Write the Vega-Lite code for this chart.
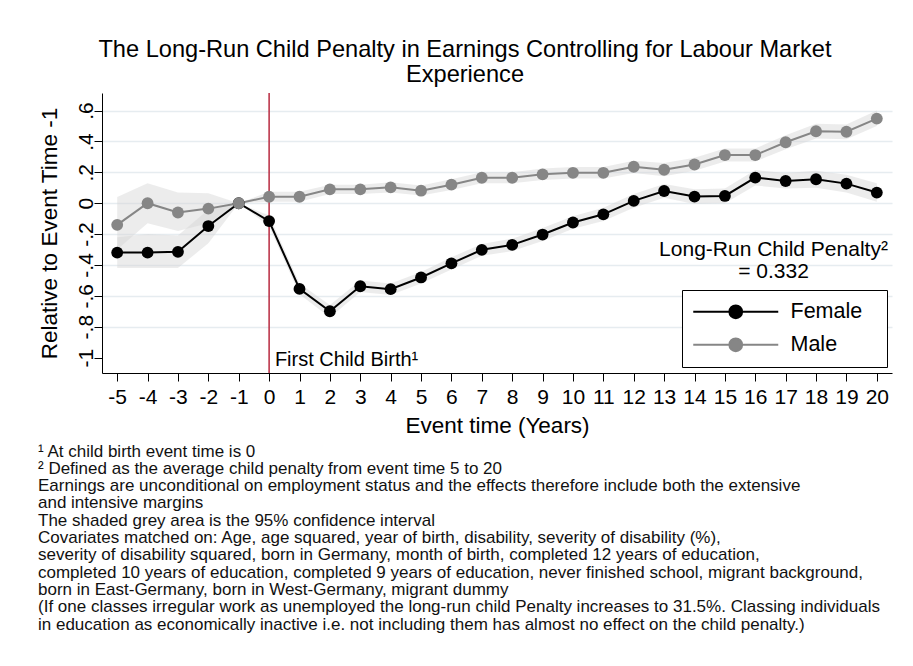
{
  "$schema": "https://vega.github.io/schema/vega-lite/v6.json",
  "background": "white",
  "padding": {"left": 37, "top": 38, "right": 10, "bottom": 10},
  "title": {
    "text": ["The Long-Run Child Penalty in Earnings Controlling for Labour Market", "Experience"],
    "fontSize": 23.6,
    "fontWeight": "normal",
    "lineHeight": 24.3,
    "anchor": "middle",
    "frame": "bounds",
    "offset": 6,
    "color": "#000000"
  },
  "datasets": {
    "series": [
      {"t": -5, "sex": "Female", "est": -0.32, "lo": -0.42, "hi": -0.22},
      {"t": -4, "sex": "Female", "est": -0.32, "lo": -0.42, "hi": -0.2},
      {"t": -3, "sex": "Female", "est": -0.315, "lo": -0.42, "hi": -0.21},
      {"t": -2, "sex": "Female", "est": -0.148, "lo": -0.26, "hi": -0.04},
      {"t": -1, "sex": "Female", "est": 0, "lo": 0, "hi": 0},
      {"t": 0, "sex": "Female", "est": -0.116, "lo": -0.15, "hi": -0.08},
      {"t": 1, "sex": "Female", "est": -0.555, "lo": -0.59, "hi": -0.52},
      {"t": 2, "sex": "Female", "est": -0.7, "lo": -0.74, "hi": -0.66},
      {"t": 3, "sex": "Female", "est": -0.538, "lo": -0.575, "hi": -0.5},
      {"t": 4, "sex": "Female", "est": -0.557, "lo": -0.595, "hi": -0.52},
      {"t": 5, "sex": "Female", "est": -0.481, "lo": -0.52, "hi": -0.445},
      {"t": 6, "sex": "Female", "est": -0.39, "lo": -0.43, "hi": -0.35},
      {"t": 7, "sex": "Female", "est": -0.302, "lo": -0.34, "hi": -0.265},
      {"t": 8, "sex": "Female", "est": -0.27, "lo": -0.31, "hi": -0.23},
      {"t": 9, "sex": "Female", "est": -0.203, "lo": -0.245, "hi": -0.16},
      {"t": 10, "sex": "Female", "est": -0.125, "lo": -0.165, "hi": -0.085},
      {"t": 11, "sex": "Female", "est": -0.072, "lo": -0.115, "hi": -0.03},
      {"t": 12, "sex": "Female", "est": 0.015, "lo": -0.03, "hi": 0.06},
      {"t": 13, "sex": "Female", "est": 0.079, "lo": 0.035, "hi": 0.125},
      {"t": 14, "sex": "Female", "est": 0.043, "lo": -0.005, "hi": 0.09},
      {"t": 15, "sex": "Female", "est": 0.047, "lo": 0.0, "hi": 0.095},
      {"t": 16, "sex": "Female", "est": 0.166, "lo": 0.115, "hi": 0.215},
      {"t": 17, "sex": "Female", "est": 0.144, "lo": 0.095, "hi": 0.195},
      {"t": 18, "sex": "Female", "est": 0.155, "lo": 0.1, "hi": 0.21},
      {"t": 19, "sex": "Female", "est": 0.127, "lo": 0.07, "hi": 0.185},
      {"t": 20, "sex": "Female", "est": 0.069, "lo": 0.01, "hi": 0.13},
      {"t": -5, "sex": "Male", "est": -0.14, "lo": -0.3, "hi": 0.04},
      {"t": -4, "sex": "Male", "est": 0.0, "lo": -0.13, "hi": 0.13},
      {"t": -3, "sex": "Male", "est": -0.06, "lo": -0.18, "hi": 0.07},
      {"t": -2, "sex": "Male", "est": -0.035, "lo": -0.13, "hi": 0.065},
      {"t": -1, "sex": "Male", "est": 0, "lo": 0, "hi": 0},
      {"t": 0, "sex": "Male", "est": 0.042, "lo": 0.01, "hi": 0.075},
      {"t": 1, "sex": "Male", "est": 0.042, "lo": 0.01, "hi": 0.075},
      {"t": 2, "sex": "Male", "est": 0.09, "lo": 0.06, "hi": 0.12},
      {"t": 3, "sex": "Male", "est": 0.09, "lo": 0.06, "hi": 0.12},
      {"t": 4, "sex": "Male", "est": 0.103, "lo": 0.07, "hi": 0.135},
      {"t": 5, "sex": "Male", "est": 0.081, "lo": 0.05, "hi": 0.115},
      {"t": 6, "sex": "Male", "est": 0.12, "lo": 0.085, "hi": 0.155},
      {"t": 7, "sex": "Male", "est": 0.165, "lo": 0.13, "hi": 0.2},
      {"t": 8, "sex": "Male", "est": 0.165, "lo": 0.13, "hi": 0.2},
      {"t": 9, "sex": "Male", "est": 0.187, "lo": 0.15, "hi": 0.225},
      {"t": 10, "sex": "Male", "est": 0.197, "lo": 0.16, "hi": 0.235},
      {"t": 11, "sex": "Male", "est": 0.197, "lo": 0.16, "hi": 0.235},
      {"t": 12, "sex": "Male", "est": 0.236, "lo": 0.195, "hi": 0.275},
      {"t": 13, "sex": "Male", "est": 0.217, "lo": 0.175, "hi": 0.26},
      {"t": 14, "sex": "Male", "est": 0.251, "lo": 0.21, "hi": 0.295},
      {"t": 15, "sex": "Male", "est": 0.312, "lo": 0.27, "hi": 0.355},
      {"t": 16, "sex": "Male", "est": 0.312, "lo": 0.27, "hi": 0.355},
      {"t": 17, "sex": "Male", "est": 0.395, "lo": 0.35, "hi": 0.44},
      {"t": 18, "sex": "Male", "est": 0.466, "lo": 0.42, "hi": 0.515},
      {"t": 19, "sex": "Male", "est": 0.463, "lo": 0.415, "hi": 0.51},
      {"t": 20, "sex": "Male", "est": 0.548, "lo": 0.5, "hi": 0.6}
    ],
    "notesLeft": [
      {"label": "First Child Birth¹", "t": 0.19, "est": -1.013}
    ],
    "notesCenter": [
      {"label": "Long-Run Child Penalty²", "t": 16.6, "est": -0.3},
      {"label": "= 0.332", "t": 16.6, "est": -0.445}
    ]
  },
  "vconcat": [
    {
      "width": 790,
      "height": 280,
      "title": {
        "text": [
          "¹ At child birth event time is 0",
          "² Defined as the average child penalty from event time 5 to 20",
          "Earnings are unconditional on employment status and the effects therefore include both the extensive",
          "and intensive margins",
          "The shaded grey area is the 95% confidence interval",
          "Covariates matched on: Age, age squared, year of birth, disability, severity of disability (%),",
          "severity of disability squared, born in Germany, month of birth, completed 12 years of education,",
          "completed 10 years of education, completed 9 years of education, never finished school, migrant background,",
          "born in East-Germany, born in West-Germany, migrant dummy",
          "(If one classes irregular work as unemployed the long-run child Penalty increases to 31.5%. Classing individuals",
          "in education as economically inactive i.e. not including them has almost no effect on the child penalty.)"
        ],
        "orient": "bottom",
        "anchor": "start",
        "frame": "bounds",
        "fontSize": 17,
        "fontWeight": "normal",
        "lineHeight": 17.3,
        "offset": 7,
        "color": "#111111"
      },
      "encoding": {
        "x": {"field": "t", "type": "quantitative",
          "scale": {"domain": [-5.5, 20.5], "nice": false, "zero": false},
          "axis": {
            "values": [-5,-4,-3,-2,-1,0,1,2,3,4,5,6,7,8,9,10,11,12,13,14,15,16,17,18,19,20],
            "labelExpr": "(datum.value < 0 ? '-' : '') + abs(datum.value)",
            "labelOverlap": false,
            "title": "Event time (Years)",
            "grid": false
          }
        },
        "y": {"field": "est", "type": "quantitative",
          "scale": {"domain": [-1.1, 0.714], "nice": false, "zero": false},
          "axis": {
            "values": [-1, -0.8, -0.6, -0.4, -0.2, 0, 0.2, 0.4, 0.6],
            "labelExpr": "datum.value == 0 ? '0' : (datum.value < 0 ? '-' : '') + replace(format(abs(datum.value), '~g'), '0.', '.')",
            "labelOverlap": false,
            "title": "Relative to Event Time -1",
            "grid": true,
            "gridOpacity": {"condition": {"test": "datum.value == -1", "value": 0}, "value": 1}
          }
        }
      },
      "layer": [
        {
          "data": {"name": "series"},
          "mark": {"type": "area", "color": "#d4d4d4", "opacity": 0.45},
          "encoding": {
            "y": {"field": "lo", "type": "quantitative",
              "scale": {"domain": [-1.1, 0.714], "nice": false, "zero": false},
              "axis": {
                "values": [-1, -0.8, -0.6, -0.4, -0.2, 0, 0.2, 0.4, 0.6],
                "labelExpr": "datum.value == 0 ? '0' : (datum.value < 0 ? '-' : '') + replace(format(abs(datum.value), '~g'), '0.', '.')",
                "labelOverlap": false,
                "title": "Relative to Event Time -1",
                "grid": true,
                "gridOpacity": {"condition": {"test": "datum.value == -1", "value": 0}, "value": 1}
              }
            },
            "y2": {"field": "hi"},
            "detail": {"field": "sex"}
          }
        },
        {
          "data": {"values": [{"t": 0}]},
          "mark": {"type": "rule", "color": "#b8293f", "strokeWidth": 1.5},
          "encoding": {"y": null}
        },
        {
          "data": {"name": "series"},
          "mark": {"type": "line", "strokeWidth": 2},
          "encoding": {
            "color": {"field": "sex", "type": "nominal",
              "scale": {"domain": ["Female", "Male"], "range": ["#000000", "#868686"]},
              "legend": {
                "title": null,
                "orient": "none",
                "legendX": 580,
                "legendY": 197,
                "strokeColor": "#000000",
                "fillColor": "#ffffff",
                "padding": 11,
                "symbolType": "M-5,0H5M0.75,0A0.75,0.75,0,1,1,-0.75,0A0.75,0.75,0,1,1,0.75,0ZM16,0",
                "symbolSize": 289,
                "symbolStrokeWidth": 2,
                "symbolOffset": 32,
                "labelOffset": 44,
                "labelFontSize": 21.5,
                "labelColor": "#000000",
                "rowPadding": 10
              }
            }
          }
        },
        {
          "data": {"name": "series"},
          "mark": {"type": "point", "filled": true, "size": 140, "opacity": 1, "shape": "circle"},
          "encoding": {
            "color": {"field": "sex", "type": "nominal",
              "scale": {"domain": ["Female", "Male"], "range": ["#000000", "#868686"]},
              "legend": {
                "title": null,
                "orient": "none",
                "legendX": 580,
                "legendY": 197,
                "strokeColor": "#000000",
                "fillColor": "#ffffff",
                "padding": 11,
                "symbolType": "M-5,0H5M0.75,0A0.75,0.75,0,1,1,-0.75,0A0.75,0.75,0,1,1,0.75,0ZM16,0",
                "symbolSize": 289,
                "symbolStrokeWidth": 2,
                "symbolOffset": 32,
                "labelOffset": 44,
                "labelFontSize": 21.5,
                "labelColor": "#000000",
                "rowPadding": 10
              }
            }
          }
        },
        {
          "data": {"name": "notesLeft"},
          "mark": {"type": "text", "align": "left", "baseline": "middle", "fontSize": 20, "color": "#000000"},
          "encoding": {"text": {"field": "label"}}
        },
        {
          "data": {"name": "notesCenter"},
          "mark": {"type": "text", "align": "center", "baseline": "middle", "fontSize": 21, "color": "#000000"},
          "encoding": {"text": {"field": "label"}}
        }
      ]
    }
  ],
  "config": {
    "font": "Liberation Sans",
    "view": {"stroke": null},
    "axis": {
      "domainColor": "#000000",
      "domainWidth": 1,
      "tickColor": "#000000",
      "tickSize": 8,
      "tickWidth": 1,
      "labelColor": "#000000",
      "labelFontSize": 21,
      "titleColor": "#000000",
      "titleFontSize": 22.5,
      "titleFontWeight": "normal",
      "gridColor": "#e6ecf0",
      "gridWidth": 1.5,
      "labelOverlap": false
    },
    "axisX": {"labelPadding": 5, "titlePadding": 7, "labelFlush": false},
    "axisY": {"labelAngle": -90, "labelAlign": "center", "labelBaseline": "alphabetic", "labelPadding": 2, "titlePadding": 14}
  }
}
